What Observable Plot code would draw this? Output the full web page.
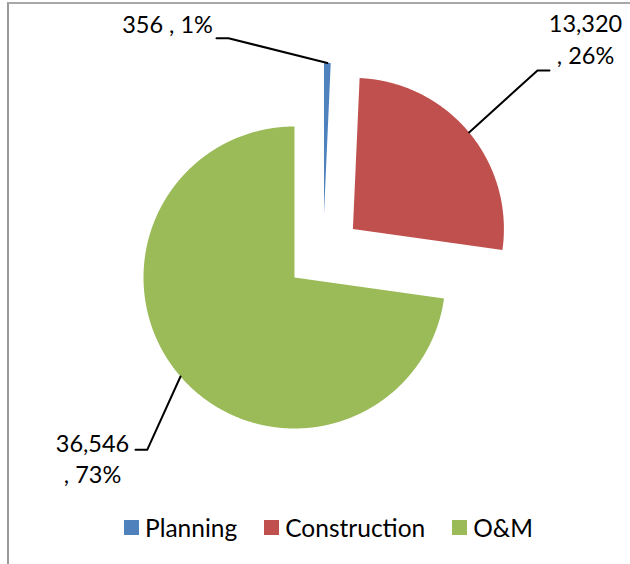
<!DOCTYPE html>
<html><head><meta charset="utf-8">
<script src="https://cdn.jsdelivr.net/npm/d3@7"></script>
<script src="https://cdn.jsdelivr.net/npm/@observablehq/plot@0.6"></script>
<style>
body{margin:0;background:#fff;}
#wrap{position:relative;width:630px;height:564px;overflow:hidden;font-family:Lato, "Open Sans", sans-serif;background:#fff;}
#frame{position:absolute;left:7px;top:2px;width:650px;height:600px;border-left:2px solid #9a9a9a;border-top:2px solid #a8a8a8;}
#chart{position:absolute;left:0;top:0;}
#legend{position:absolute;left:124px;top:512px;height:30px;display:flex;align-items:center;font-size:24.5px;color:#000;}
.item{display:flex;align-items:center;margin-right:27px;}
.sw{display:inline-block;width:15px;height:15px;margin-right:6px;}
</style></head><body>
<div id="wrap"><div id="frame"></div><div id="chart"></div><div id="legend"></div></div>
<script>
// ---- data ----
const categories = ["Planning", "Construction", "O&M"];
const values = [356, 13320, 36546];
const percents = [1, 26, 73];
const colors = ["#4f81bd", "#c0504d", "#9bbb59"];

// ---- layout (pixels) ----
const W = 630, H = 505, CX = 294, CY = 277, R = 151;
const explode = {"Planning": [29.5, -63.5], "Construction": [58.4, -48.6], "O&M": [0, 0]};
const labelLayout = {
  "Planning":     {elbow: [228, 37.7], end: [216, 37.7], pos: [167, 32], wrap: false},
  "Construction": {elbow: [537, 70],   end: [549, 70],   pos: [585, 63.3], wrap: true},
  "O&M":          {elbow: [146.7, 449.3], end: [135, 449.3], pos: [92, 482.7], wrap: true}
};

const data = categories.map((c, i) => ({name: c, value: values[i], pct: percents[i]}));
const arcs = d3.pie().sort(null).value(d => d.value).startAngle(0).endAngle(2 * Math.PI)(data);
const fmt = d3.format(",");

const slicePts = [], leaderPts = [], labels = [];
for (const a of arcs) {
  const name = a.data.name;
  const [dx, dy] = explode[name];
  const cx = CX + dx, cy = CY + dy;
  const n = Math.max(4, Math.ceil((a.endAngle - a.startAngle) / 0.005));
  slicePts.push({name, x: cx, y: cy});
  for (let k = 0; k <= n; k++) {
    const t = a.startAngle + (a.endAngle - a.startAngle) * k / n;
    slicePts.push({name, x: cx + R * Math.sin(t), y: cy - R * Math.cos(t)});
  }
  const m = (a.startAngle + a.endAngle) / 2;
  const L = labelLayout[name];
  leaderPts.push({name, x: cx + R * Math.sin(m), y: cy - R * Math.cos(m)});
  leaderPts.push({name, x: L.elbow[0], y: L.elbow[1]});
  leaderPts.push({name, x: L.end[0], y: L.end[1]});
  labels.push({name, x: L.pos[0], y: L.pos[1],
    text: fmt(a.data.value) + (L.wrap ? "\n" : " ") + ", " + a.data.pct + "%"});
}

const plot = Plot.plot({
  width: W, height: H,
  margin: 0,
  x: {domain: [0, W], range: [0, W], axis: null},
  y: {domain: [0, H], range: [0, H], axis: null},
  color: {domain: categories, range: colors},
  style: {background: "transparent", fontFamily: "Lato, 'Open Sans', sans-serif"},
  marks: [
    Plot.line(slicePts, {x: "x", y: "y", z: "name", fill: "name", stroke: null, curve: "linear-closed"}),
    Plot.line(leaderPts, {x: "x", y: "y", z: "name", stroke: "#000", strokeWidth: 2, curve: "linear"}),
    Plot.text(labels, {x: "x", y: "y", text: "text", fontSize: 23.5, lineHeight: 1.345,
      lineAnchor: "bottom", textAnchor: "middle", fill: "#000"})
  ]
});
document.getElementById("chart").appendChild(plot);

const legend = document.getElementById("legend");
categories.forEach((c, i) => {
  const item = document.createElement("div");
  item.className = "item";
  const sw = document.createElement("span");
  sw.className = "sw";
  sw.style.background = colors[i];
  const tx = document.createElement("span");
  tx.textContent = c;
  item.appendChild(sw); item.appendChild(tx);
  legend.appendChild(item);
});
</script>
</body></html>
